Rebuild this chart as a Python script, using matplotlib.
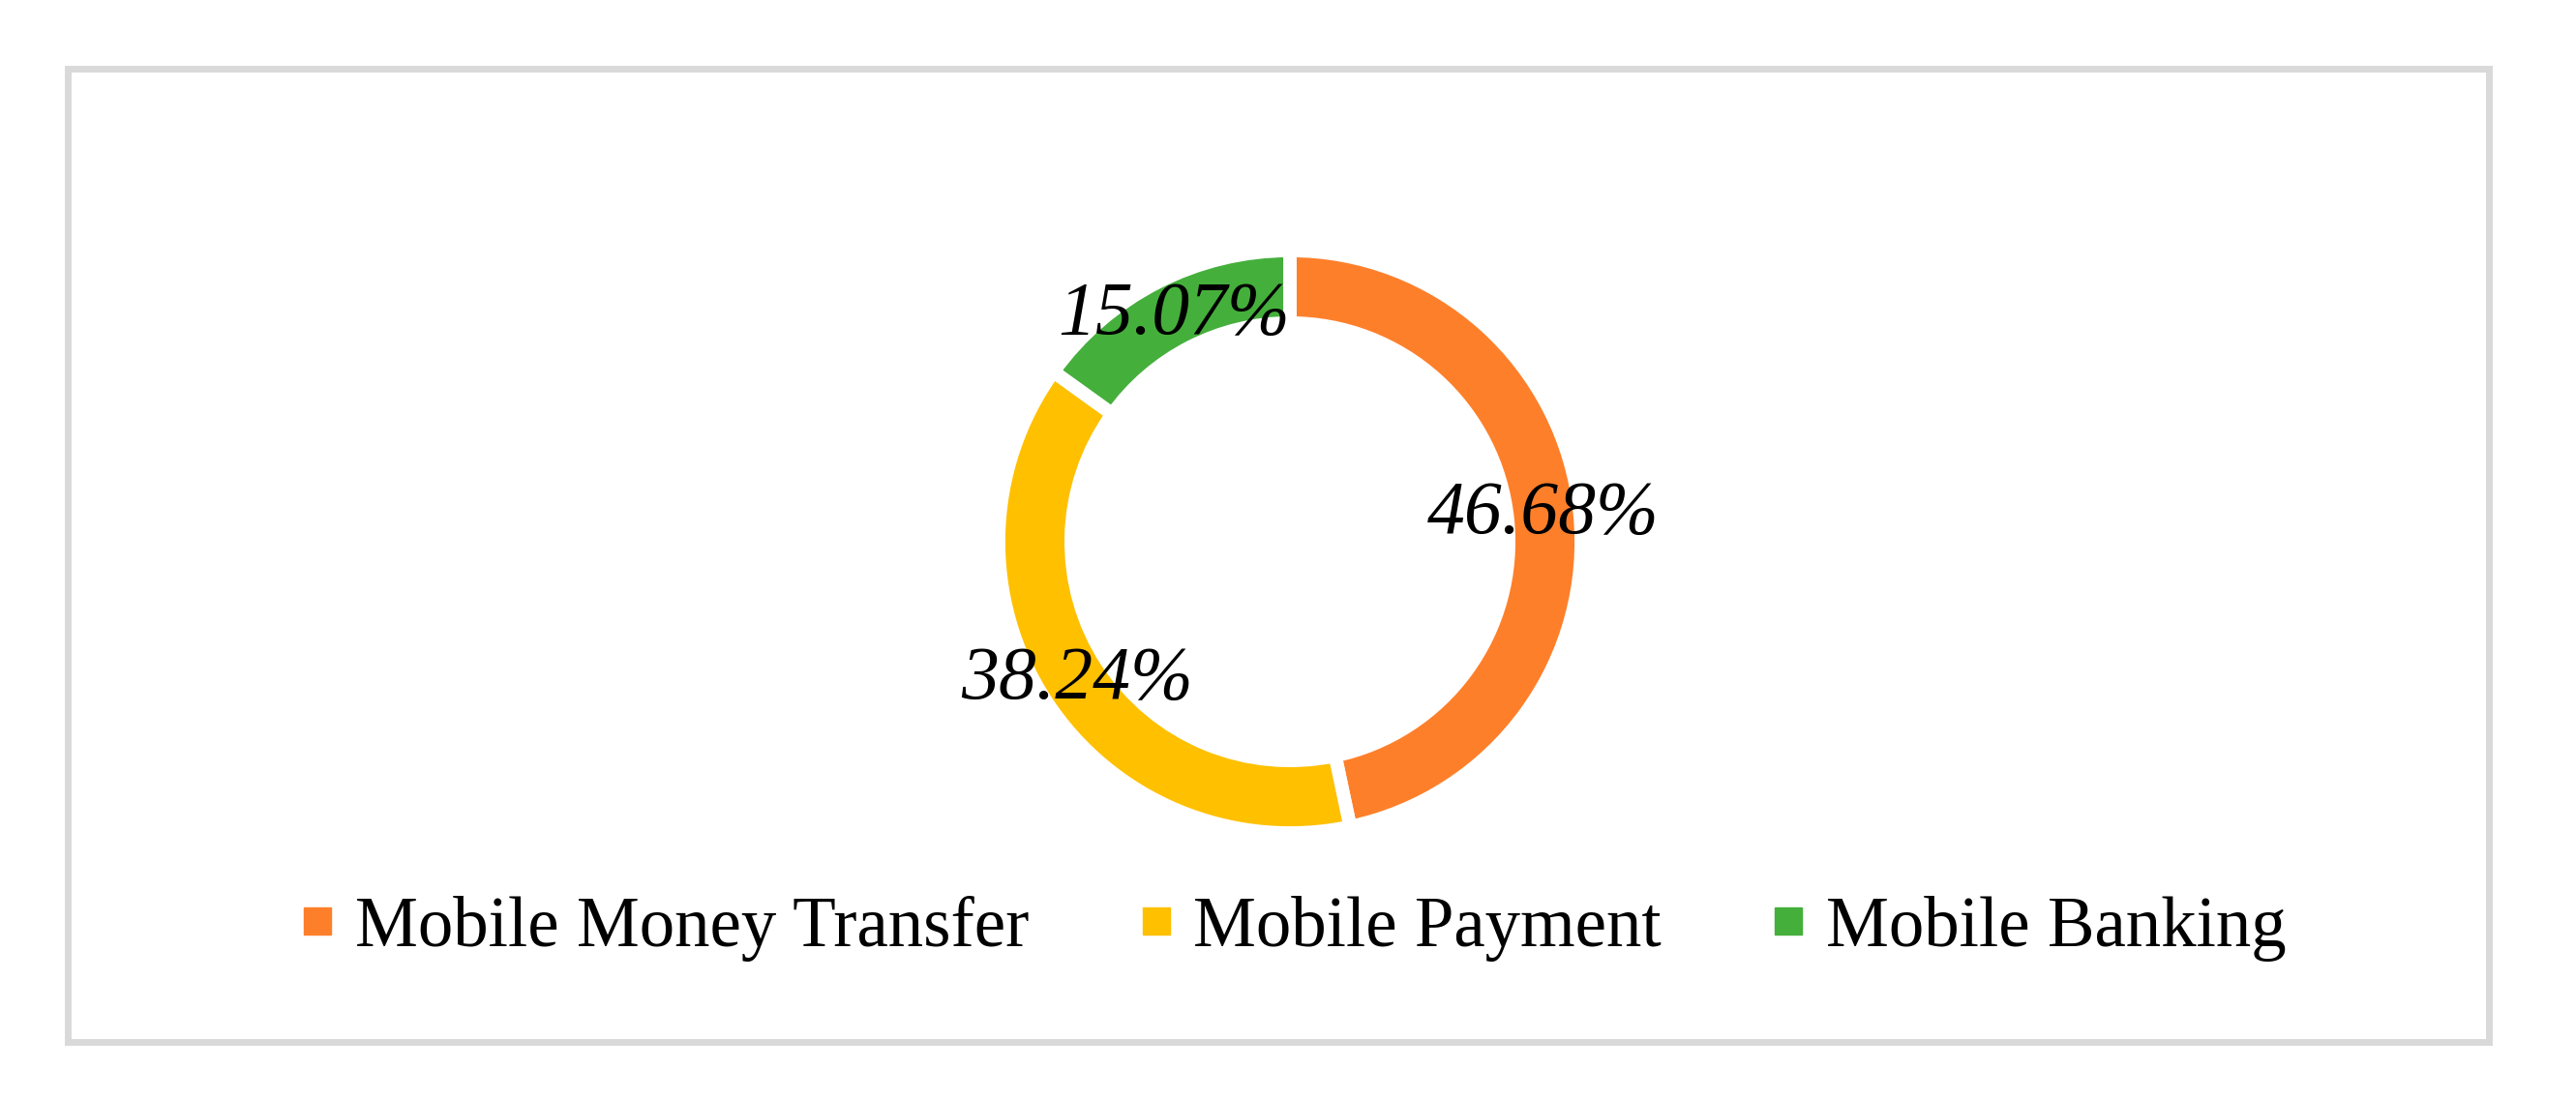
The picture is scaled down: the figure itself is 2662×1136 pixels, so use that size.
import matplotlib.pyplot as plt
from matplotlib.lines import Line2D
from matplotlib.patches import Rectangle

W, H = 2662, 1136

categories = ["Mobile Money Transfer", "Mobile Payment", "Mobile Banking"]
shares = [46.68, 38.24, 15.07]
colors = ["#FE7F2A", "#FFC000", "#45AF3C"]
labels = ["46.68%", "38.24%", "15.07%"]

plt.rcParams["font.family"] = ["Liberation Serif", "DejaVu Serif"]

fig = plt.figure(figsize=(W / 100, H / 100), dpi=100)

# light grey frame around the chart
frame = Rectangle((69.5 / W, 1 - 1076.5 / H), (2571.5 - 69.5) / W, (1076.5 - 70.5) / H,
                  transform=fig.transFigure, fill=False, edgecolor="#d9d9d9", linewidth=5.0)
fig.patches.append(frame)

# donut, centre (1333, 560) px, outer radius 294 px
cx, cy, r = 1333, 560, 294
ax = fig.add_axes([(cx - r) / W, 1 - (cy + r) / H, 2 * r / W, 2 * r / H])

wedges, _, autotexts = ax.pie(
    shares, colors=colors, startangle=90, counterclock=False,
    radius=1.024, autopct="%.2f%%", pctdistance=0.874,
    wedgeprops=dict(width=0.255, edgecolor="white", linewidth=10),
)
# pie() resets limits to +-1.25, so set them afterwards
ax.set_xlim(-1, 1)
ax.set_ylim(-1, 1)
ax.set_aspect("equal")
ax.axis("off")

for t, lab in zip(autotexts, labels):
    t.set_text(lab)
    t.set_fontsize(56)
    t.set_fontstyle("italic")
    t.set_color("black")

handles = [Line2D([], [], marker="s", linestyle="none", color=c, markersize=19.5)
           for c in colors]
fig.legend(handles, categories, loc="center", bbox_to_anchor=(1338 / W, 1 - 960 / H),
           ncol=3, frameon=False, fontsize=52.5, handlelength=0.4, handletextpad=0.33,
           columnspacing=1.6, borderpad=0)

fig.savefig("out.png", dpi=100)
